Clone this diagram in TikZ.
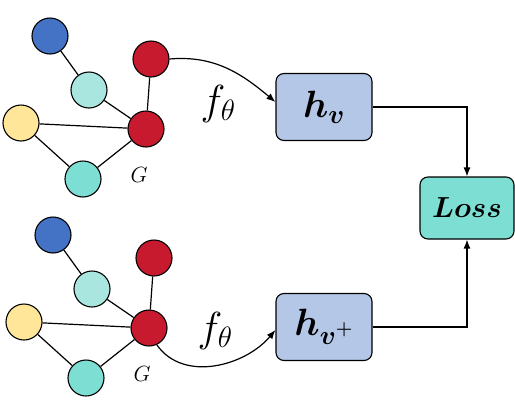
\RequirePackage{fix-cm}
\documentclass[tikz,border=0pt]{standalone}
\usepackage{amsmath}
\usepackage{bm}
\usetikzlibrary{arrows.meta,positioning,calc}
\definecolor{vblue}{RGB}{68,114,196}
\definecolor{vpale}{RGB}{170,230,224}
\definecolor{vred}{RGB}{200,26,46}
\definecolor{vyellow}{RGB}{255,230,153}
\definecolor{vteal}{RGB}{125,222,212}
\definecolor{embfill}{RGB}{180,199,231}
\tikzset{
  vert/.style={circle,draw,line width=1.1pt,minimum size=36pt,inner sep=0pt},
  edge/.style={line width=1.2pt},
  emb/.style={draw,line width=1.1pt,rounded corners=8pt,fill=embfill,minimum width=96pt,minimum height=67pt,font=\fontsize{38}{40}\selectfont},
  lossbox/.style={draw,line width=1.1pt,rounded corners=8pt,fill=vteal,minimum width=94pt,minimum height=62pt,font=\fontsize{29}{31}\selectfont},
  flow/.style={line width=1.2pt,-{Latex[length=9pt,width=7pt]}},
}
\begin{document}
\begin{tikzpicture}[x=1pt,y=-1pt]
  \useasboundingbox (0,0) rectangle (515,405);
  % the two views of the graph
  \foreach \g/\dx/\dy in {t/0/0,b/3/199}{
    \begin{scope}[shift={(\dx,\dy)}]
      \node[vert,fill=vblue] (\g1) at (50,36) {};
      \node[vert,fill=vpale] (\g2) at (89,90) {};
      \node[vert,fill=vred] (\g3) at (151,59) {};
      \node[vert,fill=vyellow] (\g4) at (21,123) {};
      \node[vert,fill=vred] (\g5) at (146,129) {};
      \node[vert,fill=vteal] (\g6) at (83,179) {};
      \node[font=\fontsize{22}{24}\selectfont] (\g G) at (139,175) {$G$};
      \draw[edge] (\g1) -- (\g2);
      \draw[edge] (\g2) -- (\g5);
      \draw[edge] (\g3) -- (\g5);
      \draw[edge] (\g4) -- (\g5);
      \draw[edge] (\g4) -- (\g6);
      \draw[edge] (\g6) -- (\g5);
    \end{scope}
  }
  % encoder outputs
  \node[emb] (hv) at (324,107) {$\bm{h_{v}}$};
  \node[emb] (hvp) at (324,327) {$\bm{h_{v^{+}}}$};
  \node[lossbox] (loss) at (467,208) {$\bm{Loss}$};
  \node[font=\fontsize{42}{44}\selectfont] (ft) at (218,104) {$f_\theta$};
  \node[font=\fontsize{42}{44}\selectfont] (fb) at (215,331) {$f_\theta$};
  \draw[flow] (t3.east) to[out=5,in=140] (hv.west|-0,102);
  \draw[flow] (b5.-65) to[out=-55,in=-130] (hvp.west|-0,330);
  \draw[flow] (hv.east) -| (loss.north);
  \draw[flow] (hvp.east) -| (loss.south);
\end{tikzpicture}
\end{document}
